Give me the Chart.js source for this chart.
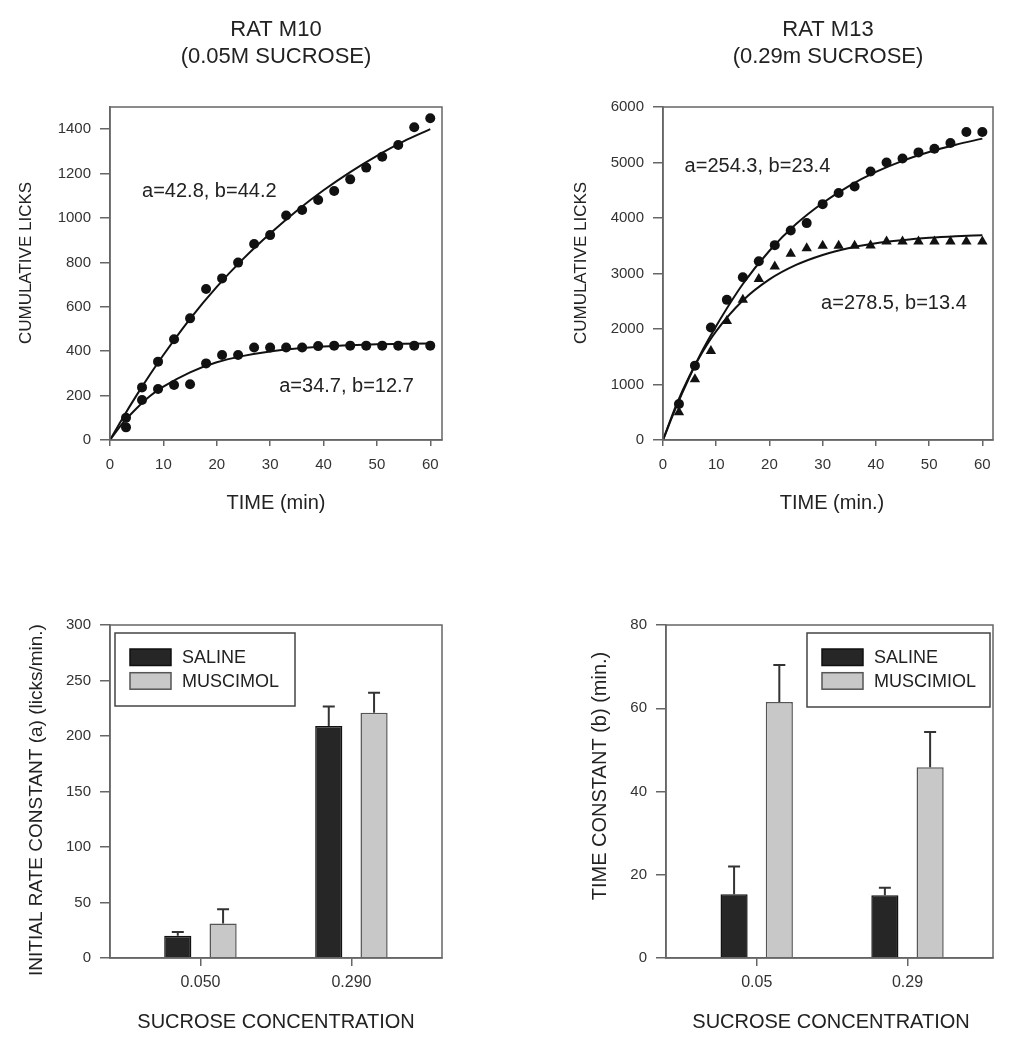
<!DOCTYPE html>
<html>
<head>
<meta charset="utf-8">
<script src="https://cdn.jsdelivr.net/npm/chart.js@4/dist/chart.umd.min.js"></script>
<style>
  body { margin: 0; background: #fff; }
  #fig { position: relative; width: 1023px; height: 1050px; }
  canvas { position: absolute; }
</style>
</head>
<body>
<div id="fig">
  <canvas id="m10" width="512" height="525" style="left:0;top:0"></canvas>
  <canvas id="m13" width="511" height="525" style="left:512px;top:0"></canvas>
  <canvas id="rateA" width="512" height="525" style="left:0;top:525px"></canvas>
  <canvas id="timeB" width="511" height="525" style="left:512px;top:525px"></canvas>
</div>
<script>
// ---- data ----
const timeMin = [3, 6, 9, 12, 15, 18, 21, 24, 27, 30, 33, 36, 39, 42, 45, 48, 51, 54, 57, 60];

// rat M10, 0.05M sucrose
const m10Upper = [100, 237, 353, 454, 548, 680, 728, 799, 883, 923, 1011, 1036, 1081, 1122, 1174, 1227, 1276, 1329, 1409, 1449];
const m10Lower = [57, 180, 230, 248, 251, 345, 383, 383, 417, 417, 417, 417, 423, 425, 425, 425, 425, 425, 425, 425];

// rat M13, 0.29m sucrose
const m13Circles = [649, 1340, 2026, 2525, 2934, 3222, 3511, 3775, 3908, 4250, 4449, 4569, 4839, 5001, 5073, 5182, 5248, 5350, 5549, 5549];
const m13Triangles = [499, 1094, 1605, 2146, 2525, 2903, 3126, 3354, 3457, 3499, 3499, 3499, 3505, 3577, 3577, 3577, 3577, 3577, 3577, 3577];

// fitted curves, sampled from the drawn lines
const fitTime = [0, 2.5, 5, 7.5, 10, 15, 20, 25, 30, 35, 40, 45, 50, 55, 60];
const m10UpperFit = [0, 104, 202, 295, 383, 546, 690, 817, 930, 1033, 1125, 1207, 1280, 1345, 1400];
const m10LowerFit = [0, 79, 143, 198, 240, 305, 350, 379, 399, 412, 421, 427, 431, 433, 435];
const m13CircleFit = [0, 600, 1140, 1630, 2055, 2810, 3410, 3890, 4270, 4580, 4830, 5030, 5190, 5320, 5430];
const m13TriangleFit = [0, 635, 1160, 1600, 1963, 2513, 2893, 3154, 3334, 3458, 3544, 3600, 3642, 3670, 3689];

const fitLabels = ['a=42.8, b=44.2', 'a=34.7, b=12.7', 'a=254.3, b=23.4', 'a=278.5, b=13.4'];

// bar panels
const concA = ['0.050', '0.290'];
const salineRate = [20, 209];
const salineRateErr = [3.5, 17.5];
const muscimolRate = [31, 221];
const muscimolRateErr = [13, 18];

const concB = ['0.05', '0.29'];
const salineTime = [15.3, 15.1];
const salineTimeErr = [6.7, 1.8];
const muscimolTime = [61.5, 45.8];
const muscimolTimeErr = [8.9, 8.5];

// ---- styling ----
Chart.defaults.font.family = '"Liberation Sans", Arial, sans-serif';
Chart.defaults.color = '#333';
const FONT = '"Liberation Sans", Arial, sans-serif';
const AXIS = '#666';

const pts = (xs, ys) => xs.map((x, i) => ({x: x, y: ys[i]}));
const bars = (ys) => ys.map((y, i) => ({x: i + 1, y: y}));

// frame around the plot area
const frame = {
    id: 'frame',
    afterDatasetsDraw(chart) {
        const a = chart.chartArea, ctx = chart.ctx;
        ctx.save();
        ctx.strokeStyle = AXIS;
        ctx.lineWidth = 1.5;
        ctx.strokeRect(a.left, a.top, a.right - a.left, a.bottom - a.top);
        ctx.restore();
    }
};

// upward error bars on bar datasets
const errorBars = {
    id: 'errorBars',
    afterDatasetsDraw(chart) {
        const ctx = chart.ctx, y = chart.scales.y;
        chart.data.datasets.forEach((ds, di) => {
            if (!ds.errors) return;
            chart.getDatasetMeta(di).data.forEach((bar, i) => {
                const top = y.getPixelForValue(ds.data[i].y + ds.errors[i]);
                ctx.save();
                ctx.strokeStyle = '#333';
                ctx.lineWidth = 2;
                ctx.beginPath();
                ctx.moveTo(bar.x, bar.y);
                ctx.lineTo(bar.x, top);
                ctx.moveTo(bar.x - 6, top);
                ctx.lineTo(bar.x + 6, top);
                ctx.stroke();
                ctx.restore();
            });
        });
    }
};

// boxed legend inside the plot
const boxLegend = {
    id: 'boxLegend',
    afterDraw(chart, args, opts) {
        if (!opts.box) return;
        const ctx = chart.ctx, b = opts.box;
        ctx.save();
        ctx.strokeStyle = '#444';
        ctx.lineWidth = 1.5;
        ctx.fillStyle = '#fff';
        ctx.fillRect(b.x, b.y, b.w, b.h);
        ctx.strokeRect(b.x, b.y, b.w, b.h);
        ctx.font = '18px ' + FONT;
        ctx.textBaseline = 'middle';
        chart.data.datasets.forEach((ds, i) => {
            const sy = b.y + 16 + i * 23.7;
            ctx.fillStyle = ds.backgroundColor;
            ctx.fillRect(b.x + 15, sy, 41, 16.5);
            ctx.strokeStyle = ds.borderColor;
            ctx.strokeRect(b.x + 15, sy, 41, 16.5);
            ctx.fillStyle = '#222';
            ctx.fillText(ds.label, b.x + 67, sy + 9);
        });
        ctx.restore();
    }
};

// titles, axis titles and fit annotations
const figText = {
    id: 'figText',
    afterDraw(chart, args, opts) {
        const ctx = chart.ctx;
        (opts.items || []).forEach(t => {
            let x = t.x, y = t.y;
            if (t.xv !== undefined) {
                x = chart.scales.x.getPixelForValue(t.xv);
                y = chart.scales.y.getPixelForValue(t.yv);
            }
            ctx.save();
            ctx.fillStyle = '#222';
            ctx.font = t.size + 'px ' + FONT;
            ctx.textAlign = t.align || 'center';
            ctx.textBaseline = 'middle';
            ctx.translate(x, y);
            if (t.rotate) ctx.rotate(-Math.PI / 2);
            ctx.fillText(t.text, 0, 0);
            ctx.restore();
        });
    }
};

function axisCommon(tickLen, pad, size) {
    return {
        ticks: {padding: pad, font: {size: size}, color: '#333', maxRotation: 0, callback: v => String(v)},
        grid: {drawOnChartArea: false, tickLength: tickLen, color: AXIS, tickColor: AXIS, lineWidth: 1.5, offset: false},
        border: {color: AXIS, width: 1.5}
    };
}

function timeScales(xMax, yMax, yStep, yWidth) {
    const x = axisCommon(6, 10, 15);
    Object.assign(x, {type: 'linear', min: 0, max: xMax, afterFit: s => { s.height = 85; }});
    Object.assign(x.ticks, {stepSize: 10, includeBounds: false});
    const y = axisCommon(10, 9, 15);
    Object.assign(y, {type: 'linear', min: 0, max: yMax, afterFit: s => { s.width = yWidth; }});
    Object.assign(y.ticks, {stepSize: yStep, includeBounds: false});
    return {x: x, y: y};
}

function barScales(cats, xMin, xMax, yMax, yStep, yWidth) {
    const x = axisCommon(8, 7, 16);
    Object.assign(x, {
        type: 'linear', min: xMin, max: xMax, offset: false,
        afterFit: s => { s.height = 92; },
        afterBuildTicks: s => { s.ticks = cats.map((c, i) => ({value: i + 1})); }
    });
    x.ticks.callback = v => cats[Math.round(v) - 1];
    const y = axisCommon(10, 9, 15);
    Object.assign(y, {type: 'linear', min: 0, max: yMax, afterFit: s => { s.width = yWidth; }});
    Object.assign(y.ticks, {stepSize: yStep});
    return {x: x, y: y};
}

const dotSet = (data, style, r) => ({
    data: data, pointStyle: style, pointRadius: r, backgroundColor: '#111',
    borderColor: '#111', borderWidth: 0, showLine: false
});
const fitSet = (data) => ({
    data: data, showLine: true, pointRadius: 0, borderColor: '#111', borderWidth: 2,
    cubicInterpolationMode: 'monotone', fill: false
});

// ---- RAT M10 ----
new Chart(document.getElementById('m10'), {
    type: 'scatter',
    data: {
        datasets: [
            fitSet(pts(fitTime, m10UpperFit)),
            fitSet(pts(fitTime, m10LowerFit)),
            dotSet(pts(timeMin, m10Upper), 'circle', 5),
            dotSet(pts(timeMin, m10Lower), 'circle', 5)
        ]
    },
    options: {
        responsive: false, animation: false, events: [],
        layout: {padding: {top: 107, right: 70, left: 0, bottom: 0}},
        scales: timeScales(62.2, 1500, 200, 110),
        plugins: {
            legend: {display: false}, tooltip: {enabled: false},
            figText: {items: [
                {text: 'RAT M10', x: 276, y: 30, size: 22},
                {text: '(0.05M SUCROSE)', x: 276, y: 57, size: 22},
                {text: 'CUMULATIVE LICKS', x: 26, y: 263, size: 17, rotate: true},
                {text: 'TIME (min)', x: 276, y: 503, size: 20},
                {text: fitLabels[0], xv: 6.0, yv: 1118, size: 20, align: 'left'},
                {text: fitLabels[1], xv: 31.7, yv: 240, size: 20, align: 'left'}
            ]}
        }
    },
    plugins: [frame, figText]
});

// ---- RAT M13 ----
new Chart(document.getElementById('m13'), {
    type: 'scatter',
    data: {
        datasets: [
            fitSet(pts(fitTime, m13CircleFit)),
            fitSet(pts(fitTime, m13TriangleFit)),
            dotSet(pts(timeMin, m13Circles), 'circle', 5),
            dotSet(pts(timeMin, m13Triangles), 'triangle', 6)
        ]
    },
    options: {
        responsive: false, animation: false, events: [],
        layout: {padding: {top: 107, right: 30, left: 0, bottom: 0}},
        scales: timeScales(62, 6000, 1000, 151),
        plugins: {
            legend: {display: false}, tooltip: {enabled: false},
            figText: {items: [
                {text: 'RAT M13', x: 316, y: 30, size: 22},
                {text: '(0.29m SUCROSE)', x: 316, y: 57, size: 22},
                {text: 'CUMULATIVE LICKS', x: 69, y: 263, size: 17, rotate: true},
                {text: 'TIME (min.)', x: 320, y: 503, size: 20},
                {text: fitLabels[2], xv: 4.06, yv: 4929, size: 20, align: 'left'},
                {text: fitLabels[3], xv: 29.7, yv: 2465, size: 20, align: 'left'}
            ]}
        }
    },
    plugins: [frame, figText]
});

const barSet = (label, ys, errs, fillC, edgeC) => ({
    label: label, data: bars(ys), errors: errs,
    backgroundColor: fillC, borderColor: edgeC, borderWidth: 1.5,
    categoryPercentage: 0.6, barPercentage: 0.6
});

// ---- initial rate constant ----
new Chart(document.getElementById('rateA'), {
    type: 'bar',
    data: {
        datasets: [
            barSet('SALINE', salineRate, salineRateErr, '#262626', '#111'),
            barSet('MUSCIMOL', muscimolRate, muscimolRateErr, '#c8c8c8', '#555')
        ]
    },
    options: {
        responsive: false, animation: false, events: [],
        layout: {padding: {top: 100, right: 70, left: 0, bottom: 0}},
        scales: barScales(concA, 0.401, 2.600, 300, 50, 110),
        plugins: {
            legend: {display: false}, tooltip: {enabled: false},
            boxLegend: {box: {x: 115, y: 108, w: 180, h: 73}},
            figText: {items: [
                {text: 'INITIAL RATE CONSTANT (a) (licks/min.)', x: 37, y: 275, size: 19, rotate: true},
                {text: 'SUCROSE CONCENTRATION', x: 276, y: 497, size: 20}
            ]}
        }
    },
    plugins: [frame, errorBars, boxLegend, figText]
});

// ---- time constant ----
new Chart(document.getElementById('timeB'), {
    type: 'bar',
    data: {
        datasets: [
            barSet('SALINE', salineTime, salineTimeErr, '#262626', '#111'),
            barSet('MUSCIMIOL', muscimolTime, muscimolTimeErr, '#c8c8c8', '#555')
        ]
    },
    options: {
        responsive: false, animation: false, events: [],
        layout: {padding: {top: 100, right: 30, left: 0, bottom: 0}},
        scales: barScales(concB, 0.3985, 2.567, 80, 20, 154),
        plugins: {
            legend: {display: false}, tooltip: {enabled: false},
            boxLegend: {box: {x: 295, y: 108, w: 183, h: 74}},
            figText: {items: [
                {text: 'TIME CONSTANT (b) (min.)', x: 88, y: 251, size: 20, rotate: true},
                {text: 'SUCROSE CONCENTRATION', x: 319, y: 497, size: 20}
            ]}
        }
    },
    plugins: [frame, errorBars, boxLegend, figText]
});
</script>
</body>
</html>
